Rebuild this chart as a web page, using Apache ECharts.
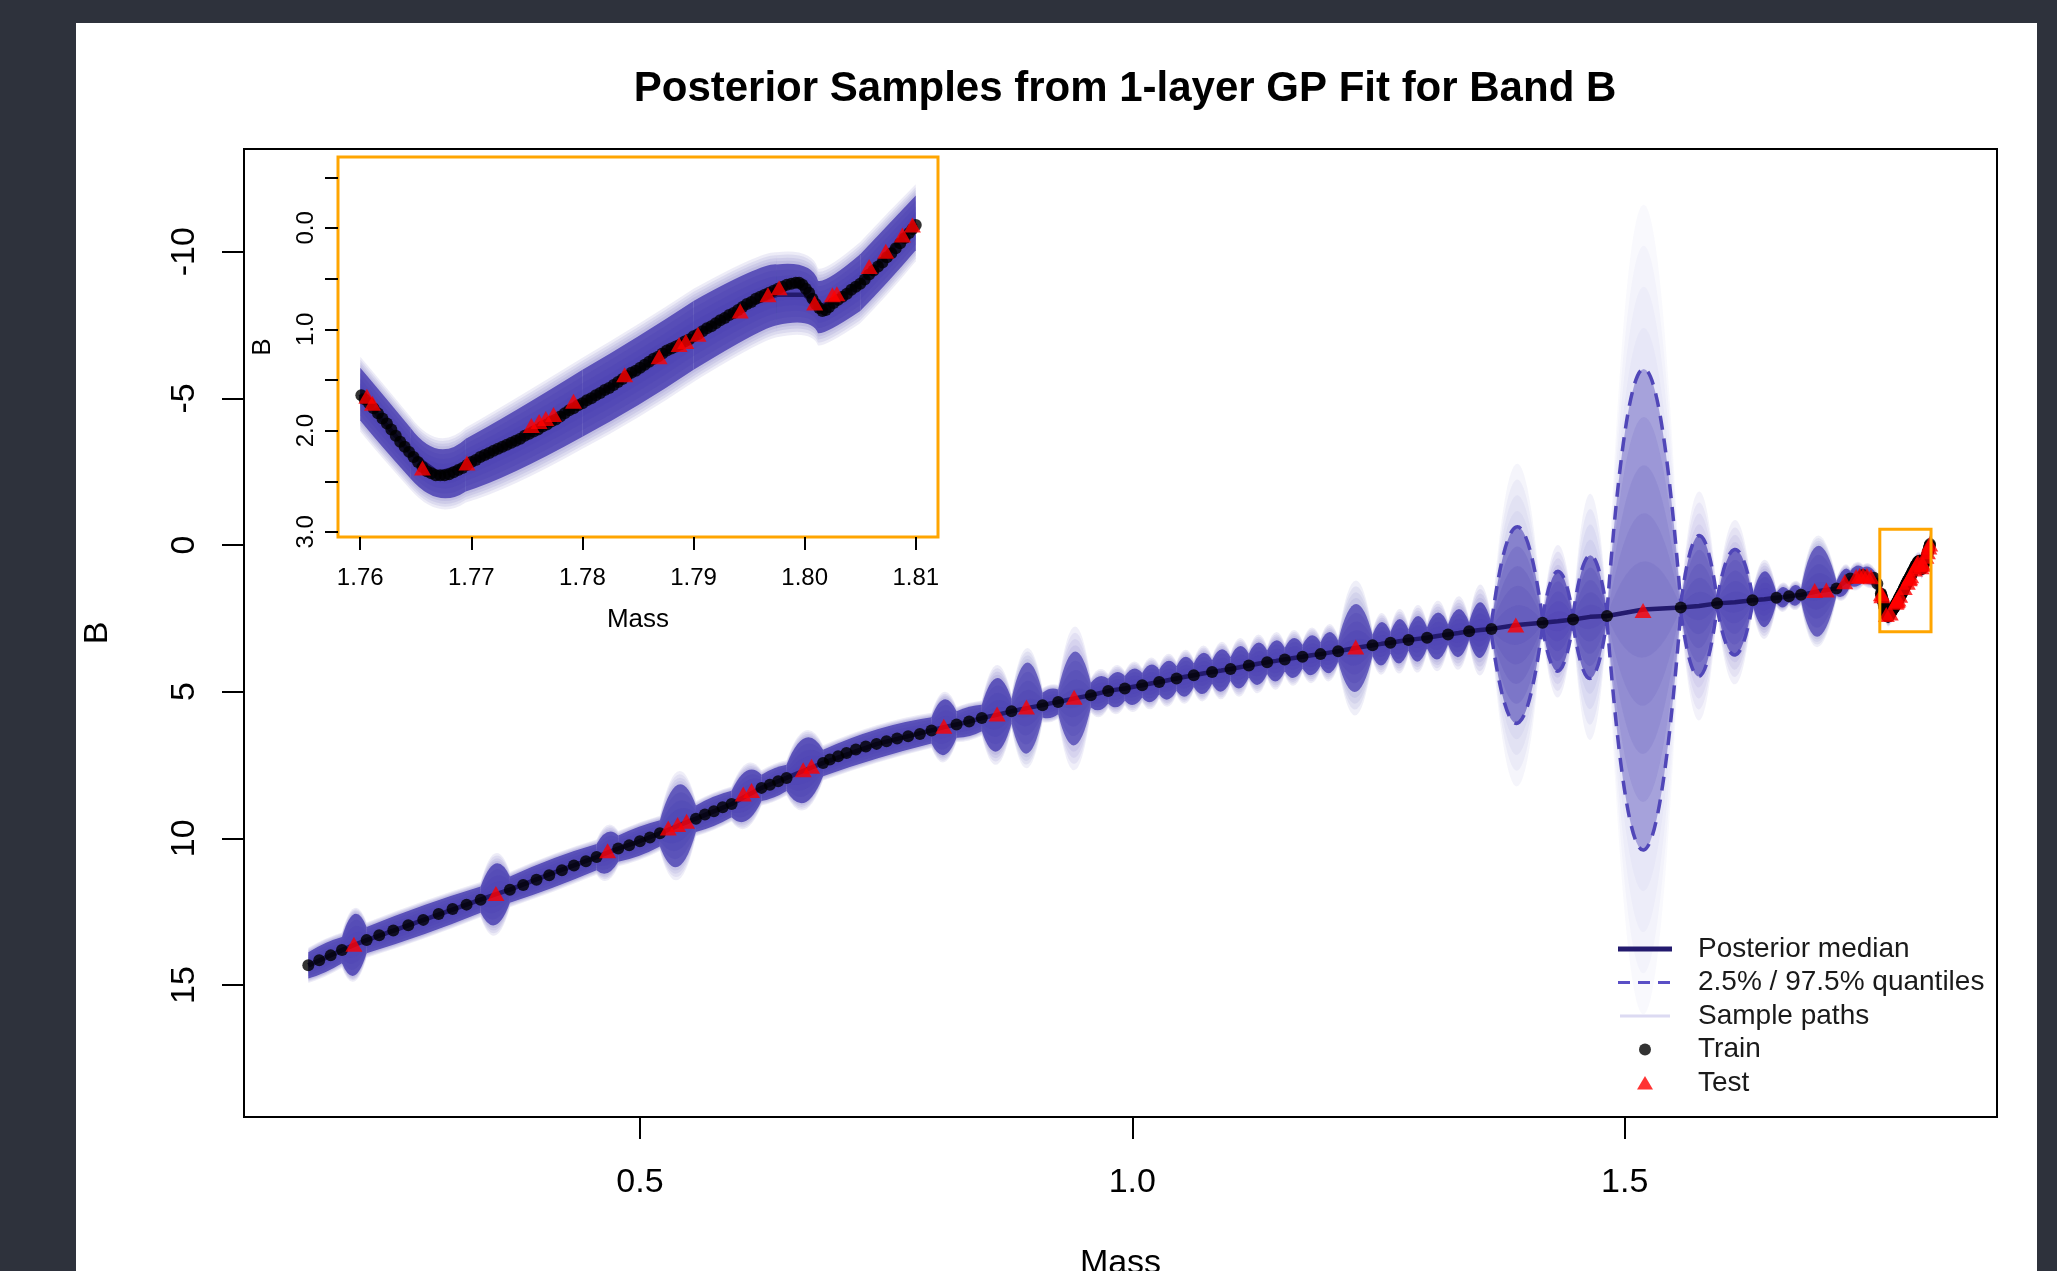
<!DOCTYPE html>
<html><head><meta charset="utf-8">
<script src="https://cdn.jsdelivr.net/npm/echarts@6/dist/echarts.min.js"></script>
<style>
html,body{margin:0;padding:0;background:#2e323c;width:2057px;height:1271px;overflow:hidden;}
#panel{position:absolute;left:76px;top:23px;width:1961px;height:1248px;background:#fff;}
#chart{position:absolute;left:0;top:0;width:2057px;height:1271px;}
</style></head><body>
<div id="panel"></div><div id="chart"></div>
<script>
// ---------------- DATA ----------------
const mainTrainX = [0.1633,0.1744,0.1860,0.1975,0.2225,0.2353,0.2496,0.2648,0.2800,0.2956,0.3098,0.3240,0.3383,0.3680,0.3815,0.3950,0.4079,0.4208,0.4330,0.4452,0.4560,0.4780,0.4891,0.5000,0.5102,0.5203,0.5569,0.5660,0.5751,0.5840,0.5931,0.6235,0.6320,0.6404,0.6489,0.6860,0.6929,0.7013,0.7098,0.7193,0.7294,0.7403,0.7504,0.7612,0.7724,0.7843,0.7961,0.8215,0.8343,0.8472,0.8773,0.9088,0.9247,0.9579,0.9755,0.9924,1.0100,1.0273,1.0449,1.0624,1.0810,1.0997,1.1183,1.1369,1.1548,1.1728,1.1911,1.2090,1.2439,1.2621,1.2804,1.2993,1.3206,1.3420,1.3647,1.4165,1.4475,1.4820,1.5569,1.5938,1.6297,1.6540,1.6668,1.6790,1.7150,1.7290,1.7420,1.7530,1.7565];
const mainTrainY = [14.33,14.16,13.99,13.81,13.47,13.30,13.14,12.96,12.78,12.58,12.41,12.26,12.09,11.75,11.59,11.41,11.26,11.09,10.93,10.78,10.64,10.35,10.24,10.10,9.97,9.83,9.33,9.19,9.08,8.94,8.83,8.28,8.17,8.05,7.94,7.43,7.31,7.20,7.09,6.97,6.87,6.78,6.69,6.60,6.52,6.44,6.32,6.12,6.02,5.90,5.67,5.46,5.35,5.12,4.98,4.89,4.78,4.67,4.55,4.44,4.33,4.23,4.11,4.00,3.90,3.81,3.72,3.62,3.42,3.33,3.24,3.16,3.05,2.94,2.86,2.65,2.54,2.42,2.13,1.99,1.88,1.80,1.75,1.70,1.48,1.14,1.02,1.12,1.32];
const mainTestX = [0.2096,0.3538,0.4672,0.5288,0.5383,0.5474,0.6049,0.6134,0.6658,0.6743,0.8086,0.8627,0.8925,0.9409,1.2269,1.3894,1.5186,1.6929,1.7047,1.7234,1.7350,1.7385,1.7420,1.7460,1.7500];
const mainTestY = [13.61,11.88,10.42,9.65,9.53,9.42,8.49,8.37,7.66,7.54,6.18,5.76,5.52,5.19,3.48,2.73,2.23,1.55,1.53,1.25,1.07,1.04,1.03,1.04,1.08];

const zoomTrainX = [1.7601,1.7604,1.7608,1.7612,1.7616,1.7620,1.7624,1.7628,1.7632,1.7636,1.7640,1.7644,1.7648,1.7652,1.7656,1.7660,1.7664,1.7668,1.7672,1.7676,1.7680,1.7684,1.7688,1.7692,1.7696,1.7700,1.7704,1.7708,1.7712,1.7716,1.7720,1.7724,1.7728,1.7732,1.7736,1.7740,1.7744,1.7748,1.7752,1.7756,1.7760,1.7764,1.7768,1.7772,1.7776,1.7780,1.7784,1.7788,1.7792,1.7796,1.7800,1.7804,1.7808,1.7812,1.7816,1.7820,1.7824,1.7828,1.7832,1.7836,1.7840,1.7844,1.7848,1.7852,1.7856,1.7860,1.7864,1.7868,1.7872,1.7876,1.7880,1.7884,1.7888,1.7892,1.7896,1.7900,1.7904,1.7908,1.7912,1.7916,1.7920,1.7924,1.7928,1.7932,1.7936,1.7940,1.7944,1.7948,1.7952,1.7956,1.7960,1.7964,1.7968,1.7972,1.7976,1.7980,1.7984,1.7988,1.7992,1.7995,1.7998,1.8001,1.8004,1.8007,1.8010,1.8013,1.8016,1.8019,1.8022,1.8026,1.8030,1.8034,1.8038,1.8042,1.8046,1.8050,1.8054,1.8058,1.8062,1.8066,1.8070,1.8074,1.8078,1.8082,1.8086,1.8090,1.8094,1.8097,1.8100];
const zoomTrainY = [1.65,1.69,1.73,1.78,1.83,1.88,1.93,1.99,2.05,2.11,2.16,2.21,2.26,2.31,2.36,2.40,2.42,2.44,2.44,2.44,2.43,2.41,2.39,2.37,2.34,2.31,2.29,2.26,2.24,2.22,2.20,2.18,2.16,2.14,2.12,2.10,2.08,2.05,2.03,2.01,1.99,1.96,1.94,1.91,1.89,1.86,1.83,1.80,1.78,1.75,1.73,1.70,1.68,1.65,1.63,1.60,1.58,1.55,1.52,1.49,1.46,1.43,1.41,1.38,1.35,1.32,1.29,1.27,1.24,1.21,1.19,1.17,1.15,1.12,1.10,1.07,1.05,1.02,0.99,0.97,0.94,0.91,0.89,0.86,0.84,0.81,0.78,0.75,0.73,0.70,0.68,0.66,0.64,0.62,0.60,0.58,0.56,0.55,0.54,0.54,0.56,0.60,0.64,0.70,0.75,0.79,0.82,0.81,0.78,0.74,0.71,0.68,0.65,0.61,0.58,0.55,0.51,0.46,0.42,0.38,0.34,0.29,0.25,0.20,0.15,0.10,0.05,0.01,-0.03];
const zoomTestX = [1.7606,1.7611,1.7656,1.7696,1.7754,1.7761,1.7767,1.7774,1.7792,1.7838,1.7869,1.7887,1.7893,1.7904,1.7942,1.7967,1.7977,1.8009,1.8025,1.8029,1.8058,1.8073,1.8088,1.8097];
const zoomTestY = [1.66,1.73,2.37,2.32,1.95,1.91,1.88,1.84,1.71,1.45,1.27,1.15,1.12,1.05,0.82,0.66,0.59,0.74,0.66,0.65,0.38,0.23,0.07,-0.03];

// posterior band nodes: knot / mid-gap / knot ... (median, 95% half-width, outer sample half-width)
const mainBandX = [0.1633,0.1804,0.1975,0.2100,0.2225,0.2804,0.3383,0.3532,0.3680,0.4120,0.4560,0.4670,0.4780,0.4992,0.5203,0.5386,0.5569,0.5750,0.5931,0.6083,0.6235,0.6362,0.6489,0.6675,0.6860,0.7410,0.7961,0.8088,0.8215,0.8343,0.8472,0.8622,0.8773,0.8930,0.9088,0.9168,0.9247,0.9413,0.9579,
0.9667,0.9755,0.9840,0.9924,1.0012,1.0100,1.0187,1.0273,1.0361,1.0449,1.0537,1.0624,1.0717,1.0810,1.0904,1.0997,1.1090,1.1183,1.1276,1.1369,1.1459,1.1548,1.1638,1.1728,1.1820,1.1911,1.2000,1.2090,1.2265,1.2439,1.2530,1.2621,1.2712,1.2804,1.2898,1.2993,1.3100,1.3206,1.3313,1.3420,1.3533,1.3647,
1.3906,1.4165,1.4320,1.4475,1.4648,1.4820,1.5190,1.5569,1.5754,1.5938,1.6118,1.6297,1.6418,1.6540,1.6604,1.6668,1.6730,1.6790,
1.6960,1.7150,1.7225,1.7290,1.7355,1.7420,1.7475,1.7530,1.7565];
const mainBandMed = [14.33,14.07,13.81,13.63,13.47,12.78,12.09,11.91,11.75,11.18,10.64,10.49,10.35,10.10,9.83,9.57,9.33,9.08,8.83,8.55,8.28,8.11,7.94,7.68,7.43,6.78,6.32,6.21,6.12,6.02,5.90,5.79,5.67,5.56,5.46,5.40,5.35,5.23,5.12,
5.05,4.98,4.93,4.89,4.83,4.78,4.72,4.67,4.61,4.55,4.49,4.44,4.38,4.33,4.28,4.23,4.17,4.11,4.05,4.00,3.95,3.90,3.85,3.81,3.76,3.72,3.67,3.62,3.51,3.42,3.37,3.33,3.28,3.24,3.20,3.16,3.10,3.05,3.00,2.94,2.90,2.86,
2.73,2.65,2.60,2.54,2.45,2.42,2.20,2.13,2.08,1.99,1.95,1.88,1.85,1.80,1.78,1.75,1.72,1.70,
1.58,1.48,1.28,1.14,1.06,1.02,1.04,1.12,1.35];
const mainBandQ = [0.45,0.50,0.45,1.05,0.45,0.50,0.45,1.05,0.45,0.50,0.45,0.70,0.45,0.50,0.45,1.40,0.45,0.50,0.45,0.85,0.45,0.50,0.45,1.10,0.45,0.50,0.45,0.95,0.45,0.50,0.45,1.25,0.42,1.55,0.42,0.50,0.42,1.60,0.42,
0.58,0.42,0.60,0.42,0.62,0.42,0.64,0.42,0.66,0.42,0.68,0.40,0.70,0.40,0.72,0.40,0.72,0.40,0.72,0.40,0.70,0.40,0.68,0.40,0.68,0.40,0.70,0.36,1.50,0.36,0.74,0.36,0.76,0.36,0.78,0.36,0.80,0.34,0.82,0.30,0.95,0.20,
3.35,0.15,1.70,0.15,2.10,0.15,8.20,0.15,2.40,0.15,1.80,0.15,0.95,0.18,0.35,0.20,0.35,0.22,
1.55,0.25,0.45,0.25,0.35,0.25,0.30,0.25,0.28];
const mainBandO = [0.60,0.64,0.60,1.25,0.60,0.64,0.60,1.40,0.60,0.64,0.60,0.95,0.60,0.64,0.60,1.85,0.60,0.64,0.60,1.10,0.60,0.64,0.60,1.35,0.60,0.64,0.60,1.20,0.60,0.64,0.60,1.70,0.58,2.05,0.58,0.64,0.58,2.45,0.58,
0.82,0.58,0.84,0.58,0.86,0.58,0.88,0.56,0.90,0.56,0.92,0.54,0.95,0.54,0.98,0.54,1.00,0.54,1.00,0.54,0.98,0.54,0.95,0.54,0.95,0.54,0.98,0.50,2.30,0.50,1.05,0.50,1.10,0.50,1.15,0.50,1.20,0.46,1.25,0.42,1.55,0.35,
5.50,0.30,2.60,0.30,4.20,0.30,13.80,0.30,3.90,0.30,2.80,0.30,1.35,0.30,0.50,0.32,0.50,0.35,
1.90,0.35,0.60,0.35,0.48,0.35,0.42,0.35,0.40];

const zoomBandX = [1.7600,1.7620,1.7645,1.7670,1.7695,1.7740,1.7800,1.7850,1.7900,1.7950,1.7975,1.8000,1.8012,1.8025,1.8050,1.8075,1.8100];
const zoomBandMed = [1.64,1.90,2.22,2.42,2.34,2.10,1.73,1.41,1.06,0.76,0.66,0.66,0.78,0.73,0.54,0.25,-0.05];
const zoomBandQ = [0.26,0.26,0.25,0.24,0.26,0.30,0.33,0.34,0.34,0.32,0.30,0.28,0.26,0.26,0.28,0.28,0.27];
const zoomBandO = [0.37,0.37,0.36,0.35,0.37,0.42,0.45,0.46,0.46,0.44,0.42,0.40,0.38,0.38,0.40,0.40,0.38];

const zoomWindow = [1.759, -0.54, 1.811, 2.96];   // inset region drawn on the main panel

const mainXTicks = [0.5, 1.0, 1.5];
const mainYTicks = [-10, -5, 0, 5, 10, 15];
const zoomXTicks = [1.76, 1.77, 1.78, 1.79, 1.80, 1.81];
const zoomYTicks = [-0.5, 0, 0.5, 1, 1.5, 2, 2.5, 3];
const zoomYLabels = [0, 1, 2, 3];

// ---------------- helpers ----------------
const FONT = "'Liberation Sans', Arial, sans-serif";
const allBandX = mainBandX.concat(zoomBandX);
const allBandMed = mainBandMed.concat(zoomBandMed);
const allBandQ = mainBandQ.concat(zoomBandQ);
const allBandO = mainBandO.concat(zoomBandO);
const allTrainX = mainTrainX.concat(zoomTrainX), allTrainY = mainTrainY.concat(zoomTrainY);
const allTestX = mainTestX.concat(zoomTestX), allTestY = mainTestY.concat(zoomTestY);
const pairs = (xs, ys) => xs.map((x, i) => [x, ys[i]]);

function edgePts(api, X, M, k, w, sgn) {
  return [0, 1, 2].map(d => api.coord([X[k + d], M[k + d] + sgn * w(k + d)]));
}
function ctrl(p) {
  return [2 * p[1][0] - (p[0][0] + p[2][0]) / 2, 2 * p[1][1] - (p[0][1] + p[2][1]) / 2];
}
function lensPath(api, X, M, k, w) {
  const t = edgePts(api, X, M, k, w, -1), b = edgePts(api, X, M, k, w, 1);
  const ct = ctrl(t), cb = ctrl(b);
  return 'M' + t[0][0] + ' ' + t[0][1] + 'Q' + ct[0] + ' ' + ct[1] + ' ' + t[2][0] + ' ' + t[2][1] +
         'L' + b[2][0] + ' ' + b[2][1] + 'Q' + cb[0] + ' ' + cb[1] + ' ' + b[0][0] + ' ' + b[0][1] + 'Z';
}
function edgePath(api, X, M, k, w, sgn) {
  const t = edgePts(api, X, M, k, w, sgn), c = ctrl(t);
  return 'M' + t[0][0] + ' ' + t[0][1] + 'Q' + c[0] + ' ' + c[1] + ' ' + t[2][0] + ' ' + t[2][1];
}
function lensData(X, M) {
  const d = [];
  for (let i = 0; i + 2 < X.length; i += 2) d.push([X[i + 1], M[i + 1]]);
  return d;
}
function halfPx(api, X, M, Q, k) {
  const a = api.coord([X[k + 1], M[k + 1]]), b = api.coord([X[k + 1], M[k + 1] + Q[k + 1]]);
  return Math.max(1, Math.abs(b[1] - a[1]));
}
const OUT_FR = [1, 0.75, 0.5, 0.25];
const IN_FR = [0.8, 0.6, 0.4, 0.2];
function bandSeries(X, M, Q, O, xi, yi) {
  return {
    type: 'custom', name: 'Sample paths', xAxisIndex: xi, yAxisIndex: yi, silent: true, z: 2,
    itemStyle: { color: '#dcdaf2' },
    data: lensData(X, M),
    renderItem: function (params, api) {
      const k = params.dataIndex * 2;
      const h = halfPx(api, X, M, Q, k);
      const r = Math.min(1, 35 / h);
      const layers = [];
      const ao = 0.1 * Math.pow(r, 0.6);
      OUT_FR.forEach(f => layers.push([j => O[j] * f + Q[j] * (1 - f), ao]));
      layers.push([j => Q[j], 0.85 * Math.pow(r, 0.38)]);
      const ai = 0.28 * Math.pow(r, 0.45);
      IN_FR.forEach(f => layers.push([j => Q[j] * f, ai]));
      return {
        type: 'group',
        children: layers.map(l => ({
          type: 'path',
          shape: { pathData: lensPath(api, X, M, k, l[0]) },
          style: { fill: 'rgba(74,64,178,' + l[1].toFixed(3) + ')', stroke: null }
        }))
      };
    }
  };
}
function quantileSeries(X, M, Q, xi, yi) {
  return {
    type: 'custom', name: '2.5% / 97.5% quantiles', xAxisIndex: xi, yAxisIndex: yi, silent: true, z: 3,
    itemStyle: { color: '#5046b8' },
    data: lensData(X, M),
    renderItem: function (params, api) {
      const k = params.dataIndex * 2;
      if (halfPx(api, X, M, Q, k) < 49) return null;
      const st = { fill: 'none', stroke: '#5046b8', lineWidth: 3.5, lineDash: [14, 9] };
      return {
        type: 'group',
        children: [
          { type: 'path', shape: { pathData: edgePath(api, X, M, k, j => Q[j], -1) }, style: st },
          { type: 'path', shape: { pathData: edgePath(api, X, M, k, j => Q[j], 1) }, style: st }
        ]
      };
    }
  };
}
function medianSeries(X, M, xi, yi, w) {
  return { type: 'line', name: 'Posterior median', xAxisIndex: xi, yAxisIndex: yi, silent: true, z: 4,
    data: pairs(X, M), showSymbol: false, symbol: 'none',
    lineStyle: { color: '#231a6e', width: w }, itemStyle: { color: '#231a6e' } };
}
function trainSeries(X, Y, xi, yi) {
  return { type: 'scatter', name: 'Train', xAxisIndex: xi, yAxisIndex: yi, silent: true, z: 5,
    symbol: 'circle', symbolSize: 12, itemStyle: { color: '#000' }, data: pairs(X, Y) };
}
function testSeries(X, Y, xi, yi) {
  return { type: 'scatter', name: 'Test', xAxisIndex: xi, yAxisIndex: yi, silent: true, z: 6,
    symbol: 'triangle', symbolSize: [17, 15], itemStyle: { color: '#ff0000' }, data: pairs(X, Y) };
}

const BOX = 'M0 0L0 0M75 30L75 30';
const ICON_MEDIAN = 'path://' + BOX + 'M0 12.5L54 12.5L54 17.5L0 17.5Z';
const ICON_DASH = 'path://' + BOX + 'M0 13.5L12 13.5L12 16.5L0 16.5ZM20 13.5L32 13.5L32 16.5L20 16.5ZM40 13.5L52 13.5L52 16.5L40 16.5Z';
const ICON_SAMPLE = 'path://' + BOX + 'M2 13.5L52 13.5L52 16.5L2 16.5Z';
const ICON_TRAIN = 'path://' + BOX + 'M21 15A6 6 0 1 0 33 15A6 6 0 1 0 21 15Z';
const ICON_TEST = 'path://' + BOX + 'M27 8L35 21.5L19 21.5Z';

const tickStyle = { color: '#000', width: 2 };
const noLine = { show: false, onZero: false };

const option = {
  animation: false,
  backgroundColor: 'transparent',
  textStyle: { fontFamily: FONT, color: '#000' },
  title: {
    text: 'Posterior Samples from 1-layer GP Fit for Band B',
    left: 1120, top: 63, textAlign: 'center',
    textStyle: { fontFamily: FONT, fontSize: 42, fontWeight: 'bold', color: '#000' }
  },
  legend: {
    orient: 'vertical', left: 1618, top: 934, padding: 0,
    itemWidth: 75, itemHeight: 30, itemGap: 3.5, selectedMode: false,
    textStyle: { fontFamily: FONT, fontSize: 28, color: '#1a1a1a' },
    itemStyle: { borderWidth: 0 },
    data: [
      { name: 'Posterior median', icon: ICON_MEDIAN, itemStyle: { color: '#231a6e', borderWidth: 0 } },
      { name: '2.5% / 97.5% quantiles', icon: ICON_DASH, itemStyle: { color: '#5a4fc6', borderWidth: 0 } },
      { name: 'Sample paths', icon: ICON_SAMPLE, itemStyle: { color: '#dcdaf2', borderWidth: 0 } },
      { name: 'Train', icon: ICON_TRAIN, itemStyle: { color: '#000', borderWidth: 0 } },
      { name: 'Test', icon: ICON_TEST, itemStyle: { color: '#ff0000', borderWidth: 0 } }
    ]
  },
  grid: [
    { left: 244, top: 149, width: 1753, height: 968, show: true, borderColor: '#000', borderWidth: 2,
      backgroundColor: 'transparent', outerBoundsMode: 'none', containLabel: false },
    { left: 338, top: 157, width: 600, height: 380, show: true, borderColor: '#FFA500', borderWidth: 3,
      backgroundColor: '#fff', outerBoundsMode: 'none', containLabel: false }
  ],
  xAxis: [
    { type: 'value', gridIndex: 0, min: 0.098, max: 1.878, position: 'bottom',
      axisLine: noLine, splitLine: { show: false },
      axisTick: { show: true, length: 22, lineStyle: tickStyle, customValues: mainXTicks },
      axisLabel: { customValues: mainXTicks, formatter: v => v.toFixed(1), fontSize: 34, color: '#000', margin: 49, fontFamily: FONT },
      name: 'Mass', nameLocation: 'middle', nameGap: 130,
      nameTextStyle: { fontSize: 34, color: '#000', fontFamily: FONT } },
    { type: 'value', gridIndex: 1, min: 1.758, max: 1.812, position: 'bottom',
      axisLine: noLine, splitLine: { show: false },
      axisTick: { show: true, length: 13, lineStyle: tickStyle, customValues: zoomXTicks },
      axisLabel: { customValues: zoomXTicks, formatter: v => v.toFixed(2), fontSize: 24, color: '#000', margin: 29, fontFamily: FONT },
      name: 'Mass', nameLocation: 'middle', nameGap: 70,
      nameTextStyle: { fontSize: 26, color: '#000', fontFamily: FONT } }
  ],
  yAxis: [
    { type: 'value', gridIndex: 0, inverse: true, min: -13.5, max: 19.5, position: 'left',
      axisLine: noLine, splitLine: { show: false },
      axisTick: { show: true, length: 22, lineStyle: tickStyle, customValues: mainYTicks },
      axisLabel: { customValues: mainYTicks, rotate: 90, fontSize: 34, color: '#000', margin: 42, fontFamily: FONT },
      name: 'B', nameLocation: 'middle', nameRotate: 90, nameGap: 129,
      nameTextStyle: { fontSize: 34, color: '#000', fontFamily: FONT } },
    { type: 'value', gridIndex: 1, inverse: true, min: -0.70, max: 3.05, position: 'left',
      axisLine: noLine, splitLine: { show: false },
      axisTick: { show: true, length: 13, lineStyle: tickStyle, customValues: zoomYTicks },
      axisLabel: { customValues: zoomYLabels, rotate: 90, formatter: v => v.toFixed(1), fontSize: 24, color: '#000', margin: 20, fontFamily: FONT },
      name: 'B', nameLocation: 'middle', nameRotate: 90, nameGap: 62,
      nameTextStyle: { fontSize: 26, color: '#000', fontFamily: FONT } }
  ],
  series: [
    bandSeries(allBandX, allBandMed, allBandQ, allBandO, 0, 0),
    quantileSeries(allBandX, allBandMed, allBandQ, 0, 0),
    medianSeries(allBandX, allBandMed, 0, 0, 4.5),
    trainSeries(allTrainX, allTrainY, 0, 0),
    testSeries(allTestX, allTestY, 0, 0),
    { type: 'custom', name: 'zoom window', xAxisIndex: 0, yAxisIndex: 0, silent: true, z: 7,
      data: [zoomWindow],
      renderItem: function (params, api) {
        const p0 = api.coord([api.value(0), api.value(1)]), p1 = api.coord([api.value(2), api.value(3)]);
        return { type: 'rect',
          shape: { x: Math.min(p0[0], p1[0]), y: Math.min(p0[1], p1[1]), width: Math.abs(p1[0] - p0[0]), height: Math.abs(p1[1] - p0[1]) },
          style: { fill: 'none', stroke: '#FFA500', lineWidth: 3 } };
      } },
    bandSeries(zoomBandX, zoomBandMed, zoomBandQ, zoomBandO, 1, 1),
    medianSeries(zoomBandX, zoomBandMed, 1, 1, 4.5),
    trainSeries(zoomTrainX, zoomTrainY, 1, 1),
    testSeries(zoomTestX, zoomTestY, 1, 1)
  ]
};
const chart = echarts.init(document.getElementById('chart'), null, { renderer: 'canvas', width: 2057, height: 1271 });
chart.setOption(option);
</script></body></html>
